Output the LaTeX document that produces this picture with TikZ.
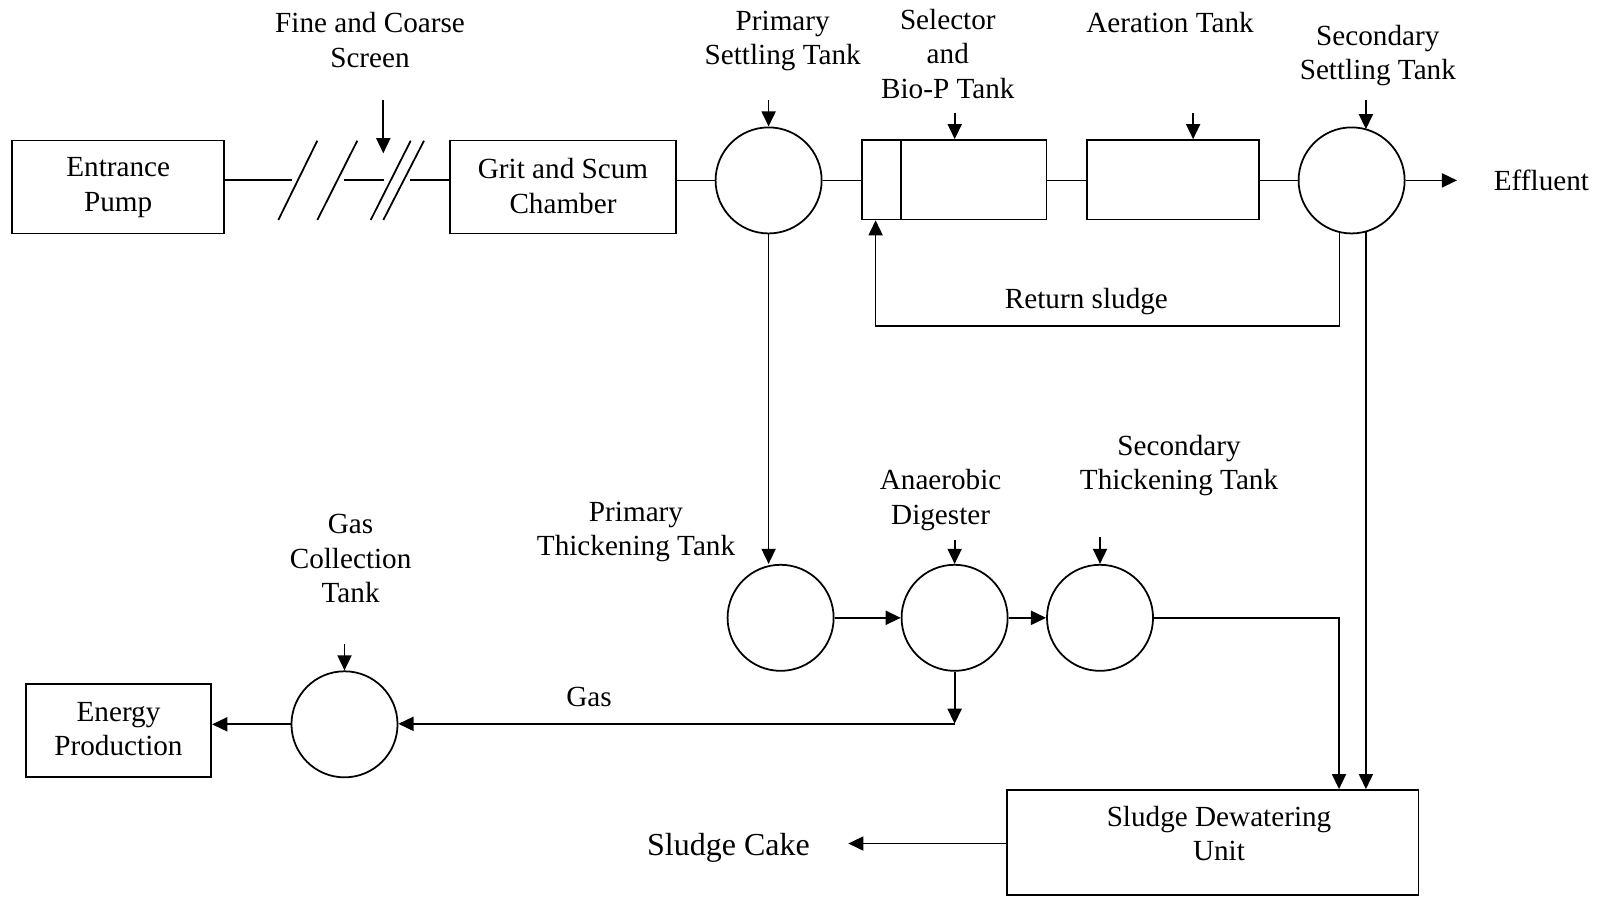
\documentclass[tikz,border=0pt]{standalone}
\usepackage{fontspec}
\setmainfont{Liberation Serif}
\usetikzlibrary{arrows.meta}
\begin{document}
\begin{tikzpicture}[x=0.01cm,y=-0.01cm,
  line width=0.5pt,
  >={Triangle[length=4.3pt,width=4pt]},
  txt/.style={font=\fontsize{8.3pt}{9.8pt}\selectfont, align=center, inner sep=0pt},
  box/.style={draw, rectangle, inner sep=0pt, font=\fontsize{8.3pt}{9.8pt}\selectfont, align=center},
  tank/.style={draw, circle, inner sep=0pt, minimum size=106*0.2845pt}]
\useasboundingbox (0,0) rectangle (1598,896);

% boxes
\node[box, minimum width=212*0.2845pt, minimum height=93*0.2845pt] (ep) at (118.2,187) {};
\node[txt] (ept) at (118.2,187.5) {Entrance\\Pump};
\node[box, minimum width=225.5*0.2845pt, minimum height=93*0.2845pt] (grit) at (563,187) {};
\node[txt] (gritt) at (563,186) {Grit and Scum\\Chamber};
\node[box, minimum width=184.7*0.2845pt, minimum height=79.3*0.2845pt] (sel) at (954,179.7) {};
\node[box, minimum width=172*0.2845pt, minimum height=79.3*0.2845pt] (aer) at (1173.1,179.7) {};
\node[box, minimum width=185.5*0.2845pt, minimum height=93*0.2845pt] (en) at (118.5,730.5) {};
\node[txt] (ent) at (118.5,729) {Energy\\Production};
\node[box, minimum width=411*0.2845pt, minimum height=105*0.2845pt] (dw) at (1212.8,842.5) {};
\node[txt] (dwt) at (1219,833.5) {Sludge Dewatering\\Unit};

% circles
\node[tank] (pst) at (768.6,180.4) {};
\node[tank] (sst) at (1351.6,180.4) {};
\node[tank] (ptt) at (780.6,617.8) {};
\node[tank] (ad) at (954.6,617.8) {};
\node[tank] (stt) at (1100,617.8) {};
\node[tank] (gct) at (344.5,724.3) {};

% labels
\node[txt] (l1) at (370,40) {Fine and Coarse\\Screen};
\node[txt] (l2) at (782.7,41) {Primary\\Settling Tank};
\node[txt] (l3) at (947.8,54) {Selector\\and\\Bio-P Tank};
\node[txt] (l4) at (1170,22.4) {Aeration Tank};
\node[txt] (l5) at (1377.8,55.5) {Secondary\\Settling Tank};
\node[txt, anchor=west] (l6) at (1493,180.4) {Effluent};
\node[txt] (l7) at (1086.4,301.6) {Return sludge};
\node[txt] (l8) at (1179,465.5) {Secondary\\Thickening Tank};
\node[txt] (l9) at (940.6,499.8) {Anaerobic\\Digester};
\node[txt] (l10) at (636,532) {Primary\\Thickening Tank};
\node[txt] (l11) at (350.6,558.8) {Gas\\Collection\\Tank};
\node[txt] (l12) at (589,697) {Gas};
\node[txt, font=\fontsize{9.1pt}{10pt}\selectfont] (l13) at (728.5,848) {Sludge Cake};

% screen
\coordinate (s1) at (291.7,180);
\coordinate (s2a) at (344,180);
\coordinate (s2b) at (384.3,180);
\coordinate (s3) at (410,180);
\draw (ep.east |- s1) -- (s1);
\draw (s2a) -- (s2b);
\draw (s3) -- (grit.west |- s3);
\draw (278.3,220) -- (317.3,140.7);
\draw (317.3,220) -- (357.3,140.7);
\draw (370.7,220) -- (410.7,140.7);
\draw (383.3,220) -- (424,140.7);
\coordinate (scr0) at (383.3,100);
\draw[->] (scr0) -- (383.3,153.3);

% main line
\draw (grit.east |- pst) -- (pst.west);
\draw (pst.east) -- (sel.west |- pst);
\draw (sel.east |- pst) -- (aer.west |- pst);
\draw (aer.east |- sst) -- (sst.west);
\coordinate (eff) at (1457,180.4);
\draw[->] (sst.east) -- (eff);
\draw (901.3,140) -- (901.3,219.3);

% top inputs
\coordinate (i1) at (768.6,100);
\draw[->] (i1) -- (pst.north);
\coordinate (i2) at (954.7,113.3);
\draw[->] (i2) -- (sel.north -| i2);
\coordinate (i3) at (1193.1,113.3);
\draw[->] (i3) -- (aer.north -| i3);
\coordinate (i4) at (1365.9,100);
\draw[->] (i4) -- (1365.9,129.2);

% return sludge
\coordinate (r1) at (1339.4,231.9);
\draw[->] (r1) -- (1339.4,326) -- (875.6,326) -- (sel.south -| 875.6,0);

% secondary settling to dewatering
\coordinate (r2) at (1365.9,231.4);
\draw[->] (r2) -- (dw.north -| r2);

% sludge line
\draw[->] (pst.south) -- (ptt.north -| pst.south);
\draw[->] (ptt.east) -- (ad.west);
\draw[->] (ad.east) -- (stt.west);
\coordinate (t1) at (1339,617.8);
\draw[->] (stt.east) -- (t1) -- (dw.north -| t1);
\coordinate (i5) at (954.6,540);
\draw[->] (i5) -- (ad.north);
\coordinate (i6) at (1100,537);
\draw[->] (i6) -- (stt.north);

% gas
\coordinate (g1) at (954.6,723.8);
\draw[->] (ad.south) -- (g1);
\draw[->] (g1) -- (gct.east |- g1);
\coordinate (i7) at (344.5,644);
\draw[->] (i7) -- (gct.north);
\draw[->] (gct.west) -- (en.east |- gct.west);

% sludge cake
\coordinate (sc) at (848.3,843.5);
\draw[->] (dw.west |- sc) -- (sc);
\end{tikzpicture}
\end{document}
